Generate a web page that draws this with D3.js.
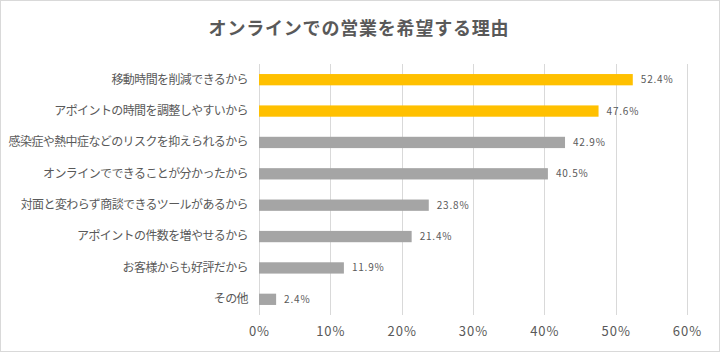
<!DOCTYPE html>
<html lang="ja">
<head>
<meta charset="utf-8">
<title>オンラインでの営業を希望する理由</title>
<style>
  body { margin: 0; background: #fff; }
  svg text { font-family: "Noto Sans CJK JP", "Noto Sans", sans-serif; fill: #595959; }
</style>
</head>
<body>
<div id="chart"></div>
<script src="https://d3js.org/d3.v7.min.js"></script>
<script>
  // data
  var categories = [
    "移動時間を削減できるから",
    "アポイントの時間を調整しやすいから",
    "感染症や熱中症などのリスクを抑えられるから",
    "オンラインでできることが分かったから",
    "対面と変わらず商談できるツールがあるから",
    "アポイントの件数を増やせるから",
    "お客様からも好評だから",
    "その他"
  ];
  var values = [52.4, 47.6, 42.9, 40.5, 23.8, 21.4, 11.9, 2.4];
  var highlight = [true, true, false, false, false, false, false, false];
  var ticks = [0, 10, 20, 30, 40, 50, 60];

  var width = 720, height = 352;
  var margin = { top: 64, right: 33, bottom: 37, left: 259 };

  var svg = d3.select("#chart").append("svg")
      .attr("width", width)
      .attr("height", height);

  // outer border
  svg.append("rect")
      .attr("x", 0.5).attr("y", 0.5)
      .attr("width", width - 1).attr("height", height - 1)
      .attr("fill", "#fff")
      .attr("stroke", "#d9d9d9");

  svg.append("text")
      .attr("x", 359)
      .attr("y", 35)
      .attr("text-anchor", "middle")
      .attr("font-size", "18px")
      .attr("font-weight", "bold")
      .attr("letter-spacing", "0.8px")
      .text("オンラインでの営業を希望する理由");

  var x = d3.scaleLinear()
      .domain([0, 60])
      .range([margin.left, width - margin.right]);

  var y = d3.scaleBand()
      .domain(categories)
      .range([margin.top, height - margin.bottom])
      .paddingInner(0.64)
      .paddingOuter(0.32);

  // gridlines
  svg.append("g")
      .selectAll("line")
      .data(ticks)
      .enter()
      .append("line")
        .attr("x1", function(d) { return Math.round(x(d)) + 0.5; })
        .attr("x2", function(d) { return Math.round(x(d)) + 0.5; })
        .attr("y1", margin.top)
        .attr("y2", height - margin.bottom)
        .attr("stroke", "#d9d9d9")
        .attr("stroke-width", 1);

  // x axis labels
  var xAxis = d3.axisBottom(x)
      .tickValues(ticks)
      .tickFormat(function(d) { return d + "%"; })
      .tickSize(0)
      .tickPadding(12);

  var gx = svg.append("g")
      .attr("transform", "translate(0," + (height - margin.bottom) + ")")
      .call(xAxis);
  gx.select(".domain").remove();
  gx.selectAll("text")
      .attr("font-size", "13px")
      .attr("fill", "#595959")
      .attr("letter-spacing", "1px")
      .style("font-family", "\"Noto Sans CJK JP\", sans-serif");

  // y axis labels
  var yAxis = d3.axisLeft(y).tickSize(0).tickPadding(11);
  var gy = svg.append("g")
      .attr("transform", "translate(" + margin.left + ",0)")
      .call(yAxis);
  gy.select(".domain").remove();
  gy.selectAll("text")
      .attr("font-size", "12px")
      .attr("fill", "#595959")
      .attr("letter-spacing", "-0.6px")
      .style("font-family", "\"Noto Sans CJK JP\", sans-serif");

  // bars
  svg.append("g")
      .selectAll("rect")
      .data(values)
      .enter()
      .append("rect")
        .attr("x", x(0))
        .attr("y", function(d, i) { return y(categories[i]); })
        .attr("width", function(d) { return x(d) - x(0); })
        .attr("height", y.bandwidth())
        .attr("fill", function(d, i) { return highlight[i] ? "#ffc000" : "#a5a5a5"; });

  // value labels
  svg.append("g")
      .selectAll("text")
      .data(values)
      .enter()
      .append("text")
        .attr("x", function(d) { return x(d) + 8; })
        .attr("y", function(d, i) { return y(categories[i]) + y.bandwidth() / 2; })
        .attr("dy", "0.35em")
        .attr("font-size", "10px")
        .attr("letter-spacing", "0.8px")
        .text(function(d) { return d.toFixed(1) + "%"; });
</script>
</body>
</html>
